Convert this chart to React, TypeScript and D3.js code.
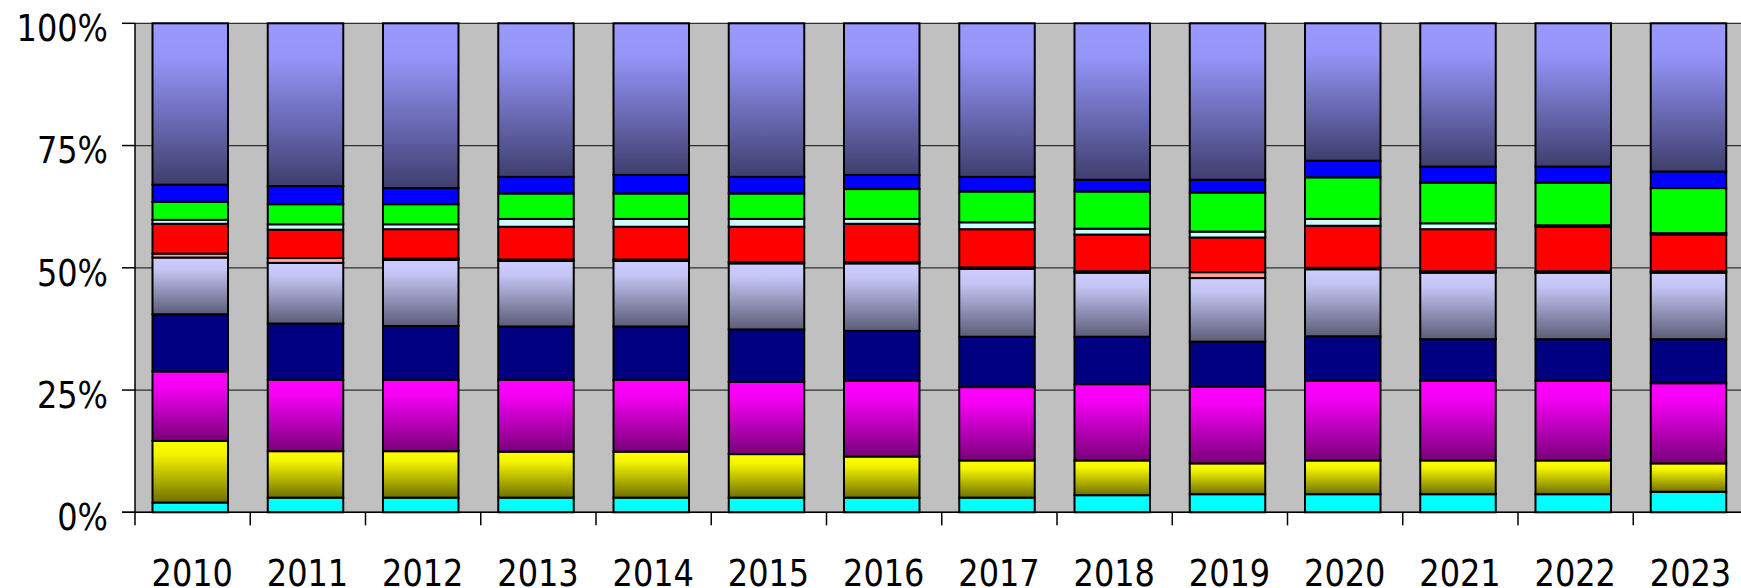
import React from 'react';
import * as d3 from 'd3';

const years = ['2010', '2011', '2012', '2013', '2014', '2015', '2016', '2017', '2018', '2019', '2020', '2021', '2022', '2023'];

// series values (percent of each year's total), bottom to top
const cyanValues = [2.0, 3.0, 3.0, 3.0, 3.0, 3.0, 3.0, 3.0, 3.5, 3.7, 3.7, 3.7, 3.7, 4.2];
const yellowValues = [12.6, 9.5, 9.5, 9.4, 9.4, 8.9, 8.4, 7.6, 7.1, 6.3, 6.9, 6.9, 6.9, 5.8];
const magentaValues = [14.2, 14.6, 14.6, 14.7, 14.7, 14.8, 15.5, 15.0, 15.6, 15.7, 16.3, 16.3, 16.3, 16.4];
const navyValues = [11.7, 11.5, 11.0, 10.9, 10.9, 10.7, 10.2, 10.3, 9.7, 9.2, 9.1, 8.5, 8.5, 9.0];
const lavenderValues = [11.6, 12.4, 13.5, 13.4, 13.4, 13.5, 13.8, 13.9, 13.1, 13.0, 13.7, 13.6, 13.6, 13.6];
const salmonValues = [0.8, 1.0, 0.3, 0.3, 0.3, 0.3, 0.3, 0.3, 0.3, 1.2, 0.3, 0.3, 0.3, 0.3];
const redValues = [6.1, 5.8, 6.0, 6.7, 6.7, 7.2, 7.8, 7.8, 7.5, 7.1, 8.6, 8.6, 9.1, 7.5];
const lightCyanValues = [0.8, 1.1, 1.0, 1.6, 1.6, 1.6, 1.0, 1.4, 1.2, 1.2, 1.4, 1.2, 0.3, 0.3];
const greenValues = [3.7, 4.1, 4.1, 5.2, 5.2, 5.2, 6.1, 6.3, 7.6, 8.0, 8.5, 8.3, 8.7, 9.2];
const blueValues = [3.5, 3.7, 3.3, 3.4, 3.8, 3.4, 2.9, 3.0, 2.4, 2.6, 3.4, 3.3, 3.3, 3.4];
const periwinkleValues = [33.0, 33.3, 33.7, 31.4, 31.0, 31.4, 31.0, 31.4, 32.0, 32.0, 28.1, 29.3, 29.3, 30.3];

const seriesKeys = ['cyan', 'yellow', 'magenta', 'navy', 'lavender', 'salmon', 'red', 'lightcyan', 'green', 'blue', 'periwinkle'];
const seriesValues = [cyanValues, yellowValues, magentaValues, navyValues, lavenderValues, salmonValues, redValues, lightCyanValues, greenValues, blueValues, periwinkleValues];

const yTickValues = [0, 0.25, 0.5, 0.75, 1];
const yTickLabels = ['0%', '25%', '50%', '75%', '100%'];

// fills: solid or gradient [top, mid-stop, bottom]
const fills: Record<string, string | string[]> = {
  cyan: '#00FFFF',
  yellow: ['#FFFF00', '#F4F400', '#707000'],
  magenta: ['#FF00FF', '#F400F4', '#780078'],
  navy: '#000080',
  lavender: ['#CCCCFF', '#C4C4F4', '#5C5C78'],
  salmon: '#FF9F9F',
  red: '#FF0000',
  lightcyan: '#CCFFFF',
  green: '#00FF00',
  blue: '#0000FF',
  periwinkle: ['#9999FF', '#9494F8', '#3E3E6E'],
};

export default function App() {
  const W = 1741;
  const H = 588;
  const plotLeft = 135;
  const plotTop = 23.3;
  const plotBottom = 512.3;
  const step = 115.25;

  const x = d3
    .scaleBand<string>()
    .domain(years)
    .range([plotLeft, plotLeft + step * years.length])
    .paddingInner(0.3276)
    .paddingOuter(0.1638)
    .align(0.437);
  const y = d3.scaleLinear().domain([0, 1]).range([plotBottom, plotTop]);

  const table = years.map((yr, i) => {
    const row: Record<string, any> = { year: yr };
    seriesKeys.forEach((k, j) => {
      row[k] = seriesValues[j][i];
    });
    return row;
  });
  const layers = d3.stack<any>().keys(seriesKeys).offset(d3.stackOffsetExpand)(table);

  const bw = x.bandwidth();
  const tickXs = d3.range(years.length + 1).map((i) => plotLeft + i * x.step());
  const font = "'DejaVu Sans', Verdana, sans-serif";

  return (
    <svg width={W} height={H} style={{ position: 'absolute', left: 0, top: 0, display: 'block' }}>
      <defs>
        {seriesKeys
          .filter((k) => Array.isArray(fills[k]))
          .map((k) => {
            const c = fills[k] as string[];
            return (
              <linearGradient key={k} id={`g-${k}`} x1="0" y1="0" x2="0" y2="1">
                <stop offset="0" stopColor={c[0]} />
                <stop offset="0.22" stopColor={c[1]} />
                <stop offset="1" stopColor={c[2]} />
              </linearGradient>
            );
          })}
      </defs>
      <rect x={0} y={0} width={W} height={H} fill="#ffffff" />
      <rect x={plotLeft} y={plotTop} width={W - plotLeft} height={plotBottom - plotTop} fill="#C0C0C0" />
      {yTickValues.map((v) => (
        <line key={v} x1={plotLeft} x2={W} y1={y(v)} y2={y(v)} stroke="#303030" strokeWidth={1.2} />
      ))}
      {layers.map((layer) => {
        const key = layer.key;
        const f = fills[key];
        const fill = Array.isArray(f) ? `url(#g-${key})` : f;
        return (
          <g key={key}>
            {layer.map((d, i) => (
              <rect
                key={i}
                x={(x(years[i]) as number) + 1}
                y={y(d[1])}
                width={bw - 2}
                height={Math.max(0, y(d[0]) - y(d[1]))}
                fill={fill}
                stroke="#000"
                strokeWidth={2}
              />
            ))}
          </g>
        );
      })}
      <line x1={plotLeft} x2={plotLeft} y1={plotTop} y2={plotBottom} stroke="#000" strokeWidth={1.5} />
      <line x1={plotLeft - 13} x2={W} y1={plotBottom} y2={plotBottom} stroke="#000" strokeWidth={1.5} />
      {yTickValues.map((v) => (
        <line key={v} x1={plotLeft - 13} x2={plotLeft} y1={y(v)} y2={y(v)} stroke="#000" strokeWidth={1.5} />
      ))}
      {tickXs.map((tx, i) => (
        <line key={i} x1={tx} x2={tx} y1={plotBottom} y2={plotBottom + 13} stroke="#000" strokeWidth={1.5} />
      ))}
      {yTickValues.map((v, i) => (
        <text
          key={v}
          transform={`translate(108, ${y(v) + 17.7}) scale(1, 1.17)`}
          textAnchor="end"
          fontFamily={font}
          fontSize={32}
          fill="#000"
        >
          {yTickLabels[i]}
        </text>
      ))}
      {years.map((yr) => (
        <text
          key={yr}
          transform={`translate(${(x(yr) as number) + bw / 2 + 2}, 585.5) scale(1, 1.17)`}
          textAnchor="middle"
          fontFamily={font}
          fontSize={32}
          fill="#000"
        >
          {yr}
        </text>
      ))}
    </svg>
  );
}
